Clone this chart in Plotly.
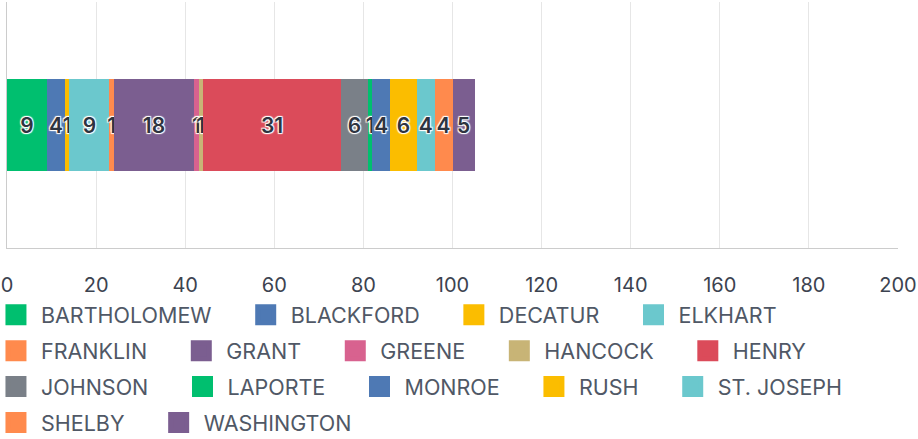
import plotly.graph_objects as go

counties = ["BARTHOLOMEW", "BLACKFORD", "DECATUR", "ELKHART", "FRANKLIN", "GRANT",
            "GREENE", "HANCOCK", "HENRY", "JOHNSON", "LAPORTE", "MONROE", "RUSH",
            "ST. JOSEPH", "SHELBY", "WASHINGTON"]
values = [9, 4, 1, 9, 1, 18, 1, 1, 31, 6, 1, 4, 6, 4, 4, 5]
colors = ["#00BF6F", "#4E79B4", "#FBBD00", "#6BC8CD", "#FF8A4D", "#7B5E90",
          "#D8628F", "#C8B476", "#DB4B5A", "#7A8088", "#00BF6F", "#4E79B4",
          "#FBBD00", "#6BC8CD", "#FF8A4D", "#7B5E90"]
category = ["Total"]
x_ticks = [0, 20, 40, 60, 80, 100, 120, 140, 160, 180, 200]

PAD = "\u00a0" * 4  # invisible spacing after legend labels

fig = go.Figure()
for name, v, c in zip(counties, values, colors):
    fig.add_trace(go.Bar(
        y=category, x=[v], orientation="h", name=name,
        marker=dict(color=c, line=dict(width=0)),
        text=[str(v)], textposition="inside", insidetextanchor="middle",
        textangle=0, constraintext="none",
        textfont=dict(family="Inter, sans-serif", size=21, color="#2E3440", weight=600,
                      shadow="1px 1px 1px white, -1px -1px 1px white, 1px -1px 1px white, -1px 1px 1px white"),
        showlegend=False, legendgroup=name,
        hoverinfo="x+name",
    ))
for name, c in zip(counties, colors):
    fig.add_trace(go.Scatter(
        x=[None], y=[None], mode="markers", name=name + PAD, legendgroup=name,
        marker=dict(symbol="square", size=16, color=c, line=dict(color=c, width=5)),
        showlegend=True,
    ))

fig.update_layout(
    barmode="stack",
    bargap=0.63,
    width=918, height=439,
    margin=dict(l=7, r=20, t=2, b=191, autoexpand=False),
    plot_bgcolor="white", paper_bgcolor="white",
    font=dict(family="Inter, sans-serif", color="#3C4350"),
    legend=dict(orientation="h", x=-0.018, xanchor="left", y=-0.188, yanchor="top",
                font=dict(size=21.5, color="#505866"), itemwidth=40,
                tracegroupgap=5, itemsizing="trace"),
    xaxis=dict(range=[0, 200], tickvals=x_ticks, showgrid=True, gridcolor="#E6E6E6",
               gridwidth=1, zeroline=False, showline=True, linecolor="#CCCCCC",
               linewidth=1, tickfont=dict(size=20, color="#3C4350"),
               ticks="", ticklabelstandoff=19, fixedrange=True, automargin=False),
    yaxis=dict(showticklabels=False, showgrid=False, zeroline=False, showline=True,
               linecolor="#CCCCCC", linewidth=1, fixedrange=True, automargin=False),
)

fig.write_html("out.html", config={"displayModeBar": False},
               post_script="document.body.style.margin='0';")
